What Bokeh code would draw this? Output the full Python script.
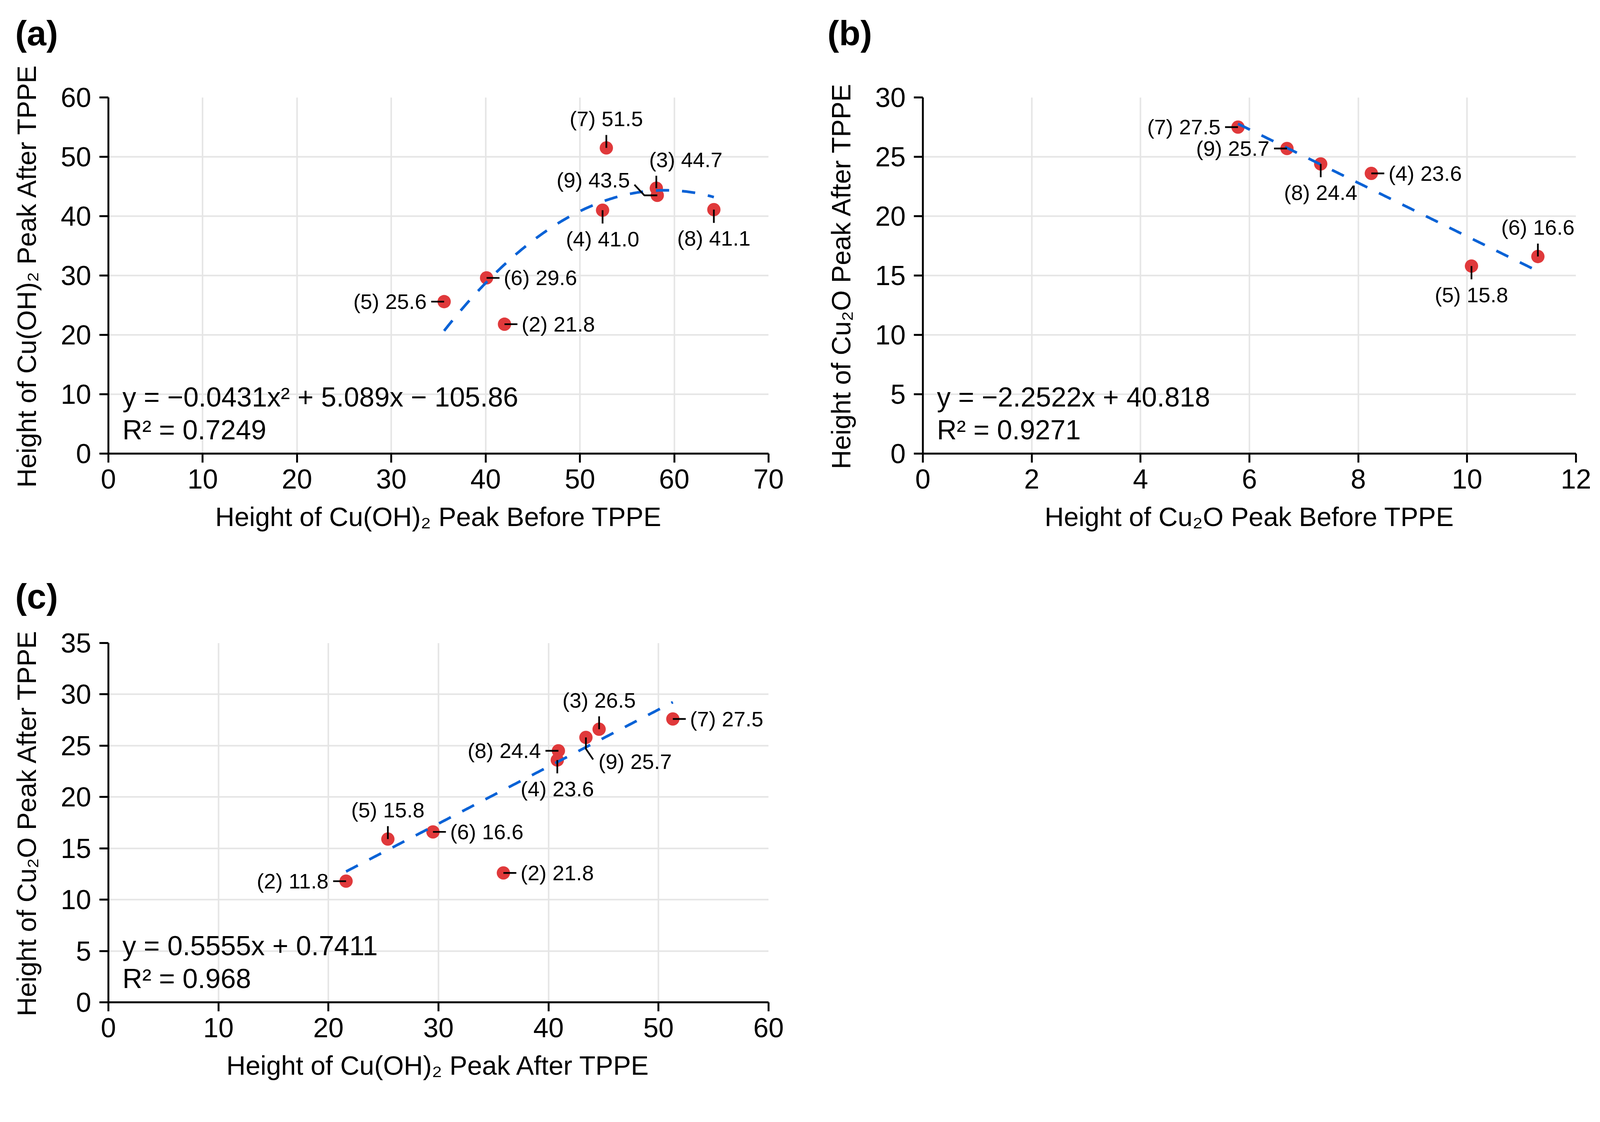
import numpy as np
from bokeh.plotting import figure
from bokeh.models import Range1d, FixedTicker, Label, LabelSet, ColumnDataSource
from bokeh.layouts import column, row
from bokeh.embed import file_html
from bokeh.resources import INLINE
from bokeh.core.properties import value

# ---------------- data ----------------
# Panel (a): Cu(OH)2 peak before vs after TPPE
a_x = [52.8, 58.1, 58.2, 52.4, 64.2, 40.1, 35.6, 42.0]
a_y = [51.5, 44.7, 43.5, 41.0, 41.1, 29.6, 25.6, 21.8]
a_labels = ["(7) 51.5", "(3) 44.7", "(9) 43.5", "(4) 41.0", "(8) 41.1", "(6) 29.6", "(5) 25.6", "(2) 21.8"]
a_coef = [-0.0431, 5.089, -105.86]
a_eq = ["y = \u22120.0431x\u00b2 + 5.089x \u2212 105.86", "R\u00b2 = 0.7249"]

# Panel (b): Cu2O peak before vs after TPPE
b_x = [5.79, 6.69, 7.31, 8.24, 10.08, 11.30]
b_y = [27.5, 25.7, 24.4, 23.6, 15.8, 16.6]
b_labels = ["(7) 27.5", "(9) 25.7", "(8) 24.4", "(4) 23.6", "(5) 15.8", "(6) 16.6"]
b_coef = [-2.2522, 40.818]
b_eq = ["y = \u22122.2522x + 40.818", "R\u00b2 = 0.9271"]

# Panel (c): Cu(OH)2 after vs Cu2O after TPPE
c_x = [21.6, 25.4, 29.5, 35.9, 40.9, 40.8, 43.4, 44.6, 51.3]
c_y = [11.8, 15.9, 16.6, 12.6, 24.5, 23.6, 25.8, 26.6, 27.6]
c_labels = ["(2) 11.8", "(5) 15.8", "(6) 16.6", "(2) 21.8", "(8) 24.4", "(4) 23.6", "(9) 25.7", "(3) 26.5", "(7) 27.5"]
c_coef = [0.5555, 0.7411]
c_eq = ["y = 0.5555x + 0.7411", "R\u00b2 = 0.968"]

# ---------------- styles ----------------
S = 1 / 1.0275          # css px per picture px
FONT = "Liberation Sans"
RED = "#E0393B"
BLUE = "#0A62D6"
GRID = "#E5E5E5"


def px(v):
    return v * S


def fs(v):
    return f"{v * S:.1f}px"


a_place = ["u", "u3", "l9", "d", "d", "r", "l", "r"]
b_place = ["l", "l", "d", "r", "d", "u"]
c_place = ["l", "u", "r", "r", "l", "d", "d9", "u", "r"]

# leader polyline (px, screen y down), text anchor offset (px), alignment
PLACE = {
    "u":  dict(lead=[(0, 0), (0, -34)], t=(0, -57), align="center"),
    "d":  dict(lead=[(0, 0), (0, 35)], t=(0, 95), align="center"),
    "l":  dict(lead=[(0, 0), (-34, 0)], t=(-46, 19), align="right"),
    "r":  dict(lead=[(0, 0), (34, 0)], t=(45, 19), align="left"),
    "u3": dict(lead=[(0, 0), (0, -33)], t=(-19, -56), align="left"),
    "l9": dict(lead=[(0, 0), (-34, 0), (-60, -28)], t=(-72, -21), align="right"),
    "d9": dict(lead=[(0, 0), (0, 30), (19, 58)], t=(33, 83), align="left"),
}


def make_panel(letter, xs, ys, labels, places, coef, eq, xr, yr, xticks, yticks,
               xlabel, ylabel, fw, fh, borders, letter_pos):
    bl, bt, br, bb = borders
    FW, FH = round(px(fw)), round(px(fh))
    p = figure(frame_width=FW, frame_height=FH,
               x_range=Range1d(*xr), y_range=Range1d(*yr),
               output_backend="svg", toolbar_location=None,
               min_border_left=round(px(bl)), min_border_top=round(px(bt)),
               min_border_right=round(px(br)), min_border_bottom=round(px(bb)))
    p.outline_line_color = None
    p.background_fill_color = "white"
    p.border_fill_color = "white"

    # data units per picture px
    ux = (xr[1] - xr[0]) / fw
    uy = (yr[1] - yr[0]) / fh

    for ax, ticks, lab in ((p.xaxis[0], xticks, xlabel), (p.yaxis[0], yticks, ylabel)):
        ax.ticker = FixedTicker(ticks=ticks)
        ax.minor_tick_line_color = None
        ax.major_tick_in = 0
        ax.major_tick_out = round(px(24))
        ax.major_tick_line_width = px(5)
        ax.axis_line_width = px(5)
        ax.axis_line_color = "black"
        ax.major_tick_line_color = "black"
        ax.major_label_text_font = FONT
        ax.major_label_text_font_size = fs(72)
        ax.major_label_text_color = "black"
        ax.axis_label = lab
        ax.axis_label_text_font = FONT
        ax.axis_label_text_font_size = fs(70)
        ax.axis_label_text_font_style = "normal"
        ax.axis_label_text_color = "black"
    p.xaxis.major_label_standoff = round(px(17))
    p.xaxis.axis_label_standoff = round(px(32))
    p.yaxis.major_label_standoff = round(px(22))
    p.yaxis.axis_label_standoff = round(px(48))

    for g in (p.xgrid, p.ygrid):
        g.grid_line_color = GRID
        g.grid_line_width = px(4)

    # points
    p.scatter(xs, ys, marker="circle", size=px(35), fill_color=RED, line_color=None)

    # trend line from the stated equation
    fx = np.linspace(min(xs), max(xs), 200)
    fy = np.polyval(coef, fx)
    p.line(fx, fy, line_color=BLUE, line_width=px(7),
           line_dash=f"{px(35):.0f} {px(34):.0f}")

    # leaders and labels
    mxs, mys = [], []
    groups = {"left": ([], [], []), "center": ([], [], []), "right": ([], [], [])}
    for x, y, lab, pl in zip(xs, ys, labels, places):
        d = PLACE[pl]
        mxs.append([x + dx * ux for dx, dy in d["lead"]])
        mys.append([y - dy * uy for dx, dy in d["lead"]])
        g = groups[d["align"]]
        g[0].append(x + d["t"][0] * ux)
        g[1].append(y - d["t"][1] * uy)
        g[2].append(lab)
    p.multi_line(mxs, mys, line_color="black", line_width=px(4.5))
    for al, (gx, gy, gt) in groups.items():
        if not gx:
            continue
        src = ColumnDataSource(dict(x=gx, y=gy, t=gt))
        p.add_layout(LabelSet(x="x", y="y", text="t", source=src,
                              text_align=al, text_baseline="alphabetic",
                              text_font=value(FONT), text_font_size=fs(56),
                              text_color="black"))

    # equation text
    p.add_layout(Label(x=xr[0] + 37 * ux, y=yr[0] + 148 * uy, text=eq[0],
                       text_font=FONT, text_font_size=fs(72),
                       text_baseline="alphabetic", text_align="left", text_color="black"))
    p.add_layout(Label(x=xr[0] + 37 * ux, y=yr[0] + 62 * uy, text=eq[1],
                       text_font=FONT, text_font_size=fs(72),
                       text_baseline="alphabetic", text_align="left", text_color="black"))

    # panel letter as title
    lx, ly, extra_line = letter_pos
    p.title.text = letter + ("\n\u00a0" if extra_line else "")
    p.title.align = "left"
    p.title.vertical_align = "top"
    p.title.offset = px(lx)
    p.title.standoff = px(ly)
    p.title.text_font = FONT
    p.title.text_font_size = fs(92)
    p.title.text_font_style = "bold"
    p.title.text_color = "black"
    return p


pa = make_panel("(a)", a_x, a_y, a_labels, a_place, a_coef, a_eq, (0, 70), (0, 60),
                list(range(0, 71, 10)), list(range(0, 61, 10)),
                "Height of Cu(OH)\u2082 Peak Before TPPE", "Height of Cu(OH)\u2082 Peak After TPPE",
                1736, 937, (285, 256, 106, 250), (-245, 26, True))
pb = make_panel("(b)", b_x, b_y, b_labels, b_place, b_coef, b_eq, (0, 12), (0, 30),
                list(range(0, 13, 2)), list(range(0, 31, 5)),
                "Height of Cu\u2082O Peak Before TPPE", "Height of Cu\u2082O Peak After TPPE",
                1718, 937, (300, 256, 50, 250), (-251, 26, True))
pc = make_panel("(c)", c_x, c_y, c_labels, c_place, c_coef, c_eq, (0, 60), (0, 35),
                list(range(0, 61, 10)), list(range(0, 36, 5)),
                "Height of Cu(OH)\u2082 Peak After TPPE", "Height of Cu\u2082O Peak After TPPE",
                1736, 945, (285, 249, 106, 220), (-245, 140, False))

layout = column(row(pa, pb), pc)
open("out.html", "w").write(file_html(layout, INLINE))
